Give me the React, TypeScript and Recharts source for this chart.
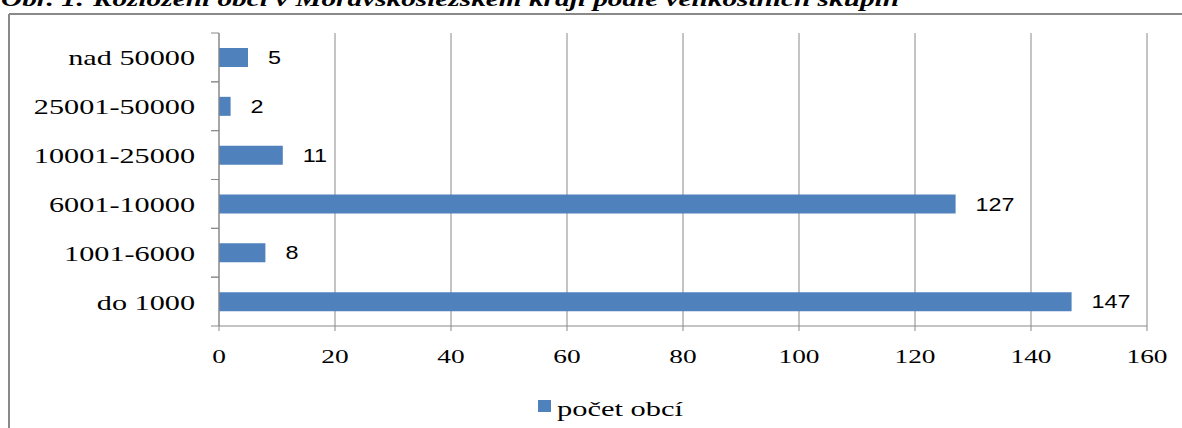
import React from 'react';
import { BarChart, Bar, XAxis, YAxis, CartesianGrid, Legend, LabelList } from 'recharts';

const categories = ['do 1000', '1001-6000', '6001-10000', '10001-25000', '25001-50000', 'nad 50000'];
const counts = [147, 8, 127, 11, 2, 5];
const xTicks = [0, 20, 40, 60, 80, 100, 120, 140, 160];
const seriesName = 'počet obcí';
const title = 'Obr. 1: Rozložení obcí v Moravskoslezském kraji podle velikostních skupin';

const data = categories.map((c, i) => ({ name: c, value: counts[i] }));

const W = 1182;
const H = 428;
const PLOT_LEFT = 219;
const PLOT_TOP = 33;
const PLOT_RIGHT = 1147;
const PLOT_BOTTOM = 326;
const HALF_BAND = (PLOT_BOTTOM - PLOT_TOP) / categories.length / 2;
const GRAY = '#898989';
const BLUE = '#4F81BD';
const SERIF = '"Liberation Serif", "Times New Roman", serif';
const SANS = '"Liberation Sans", Arial, sans-serif';

const YTick = (props: any) => {
  const { y, payload } = props;
  const tx = PLOT_LEFT - 24;
  const ty = y + 8;
  return (
    <g>
      <line x1={PLOT_LEFT - 8} x2={PLOT_LEFT} y1={y - HALF_BAND} y2={y - HALF_BAND} stroke={GRAY} strokeWidth={1} />
      <line x1={PLOT_LEFT - 8} x2={PLOT_LEFT} y1={y + HALF_BAND} y2={y + HALF_BAND} stroke={GRAY} strokeWidth={1} />
      <text
        x={0}
        y={0}
        transform={`translate(${tx},${ty}) scale(1.44,1)`}
        textAnchor="end"
        fontFamily={SERIF}
        fontSize={21}
        fill="#000"
      >
        {payload.value}
      </text>
    </g>
  );
};

const XTick = (props: any) => {
  const { x, payload } = props;
  return (
    <text
      x={0}
      y={0}
      transform={`translate(${x},${PLOT_BOTTOM + 37}) scale(1.52,1)`}
      textAnchor="middle"
      fontFamily={SERIF}
      fontSize={18}
      fill="#000"
    >
      {payload.value}
    </text>
  );
};

const ValueLabel = (props: any) => {
  const { x, y, width, height, value } = props;
  const tx = x + width + 20;
  const ty = y + height / 2 + 6.5;
  return (
    <text
      x={0}
      y={0}
      transform={`translate(${tx},${ty}) scale(1.3,1)`}
      textAnchor="start"
      fontFamily={SANS}
      fontSize={18}
      fill="#000"
    >
      {value}
    </text>
  );
};

const LegendContent = () => (
  <svg width={W} height={36} style={{ overflow: 'visible', display: 'block' }}>
    <rect x={538} y={10} width={13} height={12} fill={BLUE} />
    <text x={557} y={26} fontFamily={SERIF} fontSize={20} fill="#000" textLength={126} lengthAdjust="spacingAndGlyphs">
      {seriesName}
    </text>
  </svg>
);

export default function App() {
  return (
    <div style={{ position: 'absolute', left: 0, top: 0, width: W, height: H, overflow: 'hidden', background: '#fff' }}>
      <BarChart
        width={W}
        height={H}
        data={data}
        layout="vertical"
        margin={{ top: PLOT_TOP, right: W - PLOT_RIGHT, bottom: 0, left: 0 }}
        barCategoryGap={0}
      >
        <CartesianGrid horizontal={false} vertical={true} stroke={GRAY} strokeWidth={1} />
        <XAxis
          type="number"
          domain={[0, 160]}
          ticks={xTicks}
          interval={0}
          height={H - PLOT_BOTTOM}
          axisLine={{ stroke: GRAY }}
          tickLine={{ stroke: GRAY }}
          tickSize={5}
          tick={<XTick />}
        />
        <YAxis
          type="category"
          dataKey="name"
          reversed
          width={PLOT_LEFT}
          axisLine={{ stroke: GRAY }}
          tickLine={false}
          interval={0}
          tick={<YTick />}
        />
        <Legend
          content={<LegendContent />}
          wrapperStyle={{ position: 'absolute', left: 0, top: 390, width: W, height: 0 }}
        />
        <Bar dataKey="value" name={seriesName} fill={BLUE} barSize={19} isAnimationActive={false}>
          <LabelList dataKey="value" content={<ValueLabel />} />
        </Bar>
      </BarChart>
      <svg width={W} height={H} style={{ position: 'absolute', left: 0, top: 0, pointerEvents: 'none' }}>
        <text
          x={1}
          y={6}
          fontFamily={SERIF}
          fontSize={20}
          fontWeight="bold"
          fontStyle="italic"
          fill="#000"
          textLength={898}
          lengthAdjust="spacingAndGlyphs"
        >
          {title}
        </text>
        <line x1={9} y1={14} x2={W} y2={14} stroke={GRAY} strokeWidth={2} />
        <line x1={9} y1={14} x2={9} y2={H} stroke={GRAY} strokeWidth={2} />
      </svg>
    </div>
  );
}
